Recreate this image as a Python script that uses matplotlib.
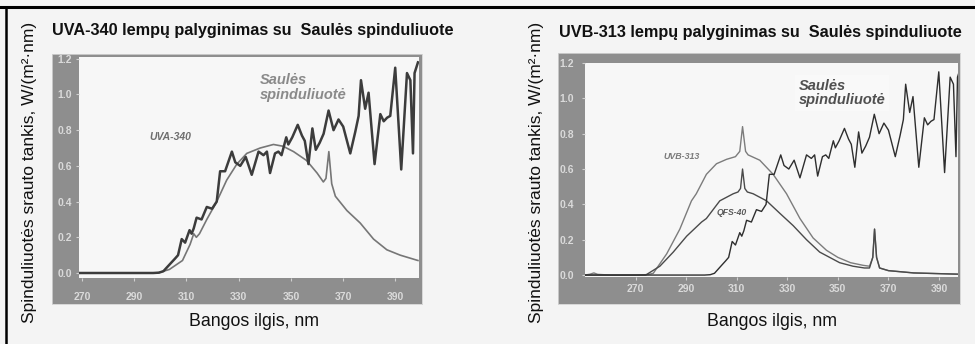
import matplotlib
matplotlib.use("Agg")
import matplotlib.pyplot as plt
from matplotlib.lines import Line2D

plt.rcParams["font.family"] = ["Liberation Sans", "DejaVu Sans"]

# ── Data ─────────────────────────────────────────────────────────────────────

# Solar spectrum, shared by both panels
sun_nm = [250, 260, 270, 280, 290, 297.3, 299.5, 301.2, 303.7, 305.6, 306.8,
          308.2, 309.5, 311.2, 312.0, 312.8, 313.9, 315.8, 317.8, 319.8, 321.6,
          322.9, 324.8, 327.4, 328.7, 330.6, 332.7, 335.0, 337.6, 339.5, 340.8,
          342.0, 343.9, 345.2, 346.4, 348.2, 349.0, 350.5, 352.6, 354.2, 355.3,
          356.7, 358.2, 359.5, 361.0, 362.5, 364.4, 366.3, 368.2, 370.0, 372.7,
          374.6, 375.9, 376.8, 378.4, 379.7, 382.0, 384.2, 385.5, 386.8, 388.0,
          389.9, 392.2, 394.4, 395.7, 396.7, 397.3, 398.6]
sun_val = [0.0, 0.0, 0.0, 0.0, 0.0, 0.0, 0.002, 0.01, 0.05, 0.08, 0.10,
           0.19, 0.17, 0.24, 0.22, 0.25, 0.31, 0.30, 0.37, 0.36, 0.40,
           0.57, 0.57, 0.68, 0.62, 0.60, 0.65, 0.55, 0.68, 0.66, 0.68,
           0.56, 0.67, 0.68, 0.66, 0.76, 0.72, 0.76, 0.83, 0.77, 0.74,
           0.61, 0.81, 0.69, 0.73, 0.78, 0.91, 0.80, 0.86, 0.82, 0.67,
           0.79, 0.88, 1.08, 0.92, 1.01, 0.61, 0.89, 0.85, 0.87, 0.88,
           1.15, 0.58, 1.12, 1.08, 0.67, 1.12, 1.18]

# UVA-340 lamp
uva_nm = [270, 285, 296, 299, 303.5, 308.5, 311.4, 312.8, 313.8, 315.0, 317.8,
          321.6, 325.4, 329.3, 333.1, 338.2, 343.3, 347.0, 351.0, 356.0, 360.0,
          362.4, 363.4, 364.5, 365.6, 367.0, 371.4, 376.5, 381.6, 386.7, 391.8,
          398.6]
uva_val = [0.0, 0.0, 0.0, 0.0, 0.02, 0.07, 0.16, 0.22, 0.20, 0.22, 0.30,
           0.40, 0.52, 0.61, 0.67, 0.70, 0.72, 0.71, 0.68, 0.63, 0.56,
           0.51, 0.53, 0.68, 0.50, 0.43, 0.35, 0.28, 0.19, 0.13, 0.10,
           0.07]

# UVB-313 lamp
uvb_nm = [250, 252, 253.5, 255, 260, 270, 275, 277, 282.3, 287.5, 292.1, 294,
          298, 302, 306, 309.5, 311.2, 312.3, 313.5, 314.5, 319.1, 324.4,
          329.7, 335.0, 340.2, 345.5, 350.0, 355.0, 360.0, 362.5, 363.8,
          364.5, 365.3, 366.5, 370, 380, 390, 397.5]
uvb_val = [0.0, 0.005, 0.012, 0.004, 0.0, 0.0, 0.003, 0.01, 0.12, 0.26, 0.42, 0.46,
           0.57, 0.63, 0.655, 0.67, 0.70, 0.84, 0.70, 0.68, 0.65, 0.57,
           0.46, 0.32, 0.21, 0.14, 0.10, 0.07, 0.055, 0.05, 0.10,
           0.26, 0.10, 0.04, 0.025, 0.012, 0.008, 0.005]

# QFS-40 lamp
qfs_nm = [250, 270, 274, 279.6, 284.9, 290.2, 296.1, 298, 303.3, 308.6, 310.5,
          311.5, 312.3, 313.2, 314.2, 316.5, 321.8, 327, 332.3, 337.6, 342.8,
          350.7, 356, 360.5, 362.5, 363.8, 364.5, 365.3, 366.5, 370, 380,
          390, 397.5]
qfs_val = [0.0, 0.0, 0.0, 0.05, 0.13, 0.22, 0.30, 0.32, 0.42, 0.46, 0.47,
           0.49, 0.60, 0.49, 0.47, 0.46, 0.42, 0.35, 0.28, 0.20, 0.13,
           0.07, 0.05, 0.04, 0.04, 0.10, 0.26, 0.10, 0.04, 0.025, 0.012,
           0.008, 0.005]

x_ticks = [270, 290, 310, 330, 350, 370, 390]
y_ticks = [0.0, 0.2, 0.4, 0.6, 0.8, 1.0, 1.2]

TITLES = ["UVA-340 lempų palyginimas su  Saulės spinduliuote",
          "UVB-313 lempų palyginimas su  Saulės spinduliuote"]
YLABEL = "Spinduliuotės srauto tankis, W/(m²·nm)"
XLABEL = "Bangos ilgis, nm"

# ── Figure ───────────────────────────────────────────────────────────────────

W, H = 975, 344
BG = "#f4f4f4"
FRAME = "#8e8e8e"
TICK_TXT = "#dadada"

fig = plt.figure(figsize=(W / 100, H / 100), dpi=100, facecolor=BG)


def px_rect(x0, y0, x1, y1):
    """pixel box (top-left origin) -> figure-fraction [l, b, w, h]"""
    return [x0 / W, 1 - y1 / H, (x1 - x0) / W, (y1 - y0) / H]


def frame(x0, y0, x1, y1):
    fa = fig.add_axes(px_rect(x0, y0, x1, y1), zorder=0)
    fa.set_facecolor(FRAME)
    fa.set_xticks([])
    fa.set_yticks([])
    for s in fa.spines.values():
        s.set_color("#d2d2d2")
        s.set_linewidth(0.6)


def style_axes(ax, xlim, ylim, ypad, xpad):
    ax.set_facecolor("#f7f7f7")
    for s in ax.spines.values():
        s.set_visible(False)
    ax.set_xlim(*xlim)
    ax.set_ylim(*ylim)
    ax.set_xticks(x_ticks)
    ax.set_yticks(y_ticks)
    ax.set_yticklabels([f"{v:.1f}" for v in y_ticks])
    ax.tick_params(axis="both", colors="#d0d0d0", length=2, width=0.8,
                   labelcolor=TICK_TXT, labelsize=7.5)
    ax.tick_params(axis="y", pad=ypad)
    ax.tick_params(axis="x", pad=xpad)
    for lab in ax.get_xticklabels() + ax.get_yticklabels():
        lab.set_fontweight("bold")


# left panel
frame(52, 54, 422, 304)
ax1 = fig.add_axes(px_rect(79, 57, 419, 278), zorder=1)
style_axes(ax1, (268.9, 399), (-0.028, 1.21), ypad=3, xpad=8)
ax1.plot(uva_nm, uva_val, color="#767676", linewidth=1.2)
ax1.plot(sun_nm, sun_val, color="#3c3c3c", linewidth=1.8)
ax1.text(296, 0.76, "UVA-340", fontsize=7.5, style="italic",
         fontweight="bold", color="#6e6e6e", va="center")
ax1.text(338.2, 1.12, "Saulės\nspinduliuotė", fontsize=10.5, style="italic",
         fontweight="bold", color="#8a8a8a", linespacing=1.05, va="top")

# right panel
frame(558, 53, 960, 304)
ax2 = fig.add_axes(px_rect(585, 63, 958, 277), zorder=1)
style_axes(ax2, (250, 397.5), (-0.011, 1.2), ypad=6, xpad=3)
ax2.plot(uvb_nm, uvb_val, color="#7c7c7c", linewidth=1.0)
ax2.plot(qfs_nm, qfs_val, color="#4a4a4a", linewidth=1.0)
ax2.plot(sun_nm, sun_val, color="#2e2e2e", linewidth=1.0)
ax2.text(281, 0.67, "UVB-313", fontsize=6.4, style="italic",
         fontweight="bold", color="#7a7a7a", va="center")
ax2.text(302, 0.355, "QFS-40", fontsize=6.2, style="italic",
         fontweight="bold", color="#5a5a5a", va="center")
ax2.text(334.4, 1.11, "Saulės\nspinduliuotė", fontsize=10.5, style="italic",
         fontweight="bold", color="#505050", linespacing=1.05, va="top",
         bbox=dict(boxstyle="square,pad=0.25", facecolor="#f9f9f9",
                   edgecolor="none"))

# titles and axis labels (placed in pixel positions)
fig.text(52 / W, 1 - 31 / H, TITLES[0], fontsize=11.7, fontweight="bold",
         va="center", ha="left", color="#111111")
fig.text(559 / W, 1 - 33 / H, TITLES[1], fontsize=11.7, fontweight="bold",
         va="center", ha="left", color="#111111")
fig.text(30 / W, 1 - 172 / H, YLABEL, rotation=90, fontsize=12.5,
         va="center", ha="center", color="#111111")
fig.text(537 / W, 1 - 172 / H, YLABEL, rotation=90, fontsize=12.5,
         va="center", ha="center", color="#111111")
fig.text(254 / W, 1 - 322 / H, XLABEL, fontsize=12.8, va="center",
         ha="center", color="#111111")
fig.text(772 / W, 1 - 321 / H, XLABEL, fontsize=12.8, va="center",
         ha="center", color="#111111")

# black border (top and left edges)
fig.lines.append(Line2D([0, 1], [1 - 7 / H, 1 - 7 / H], color="black",
                        linewidth=2.2, transform=fig.transFigure))
fig.lines.append(Line2D([6 / W, 6 / W], [0, 1 - 7 / H], color="black",
                        linewidth=1.8, transform=fig.transFigure))

fig.savefig("out.png", dpi=100, facecolor=BG)
